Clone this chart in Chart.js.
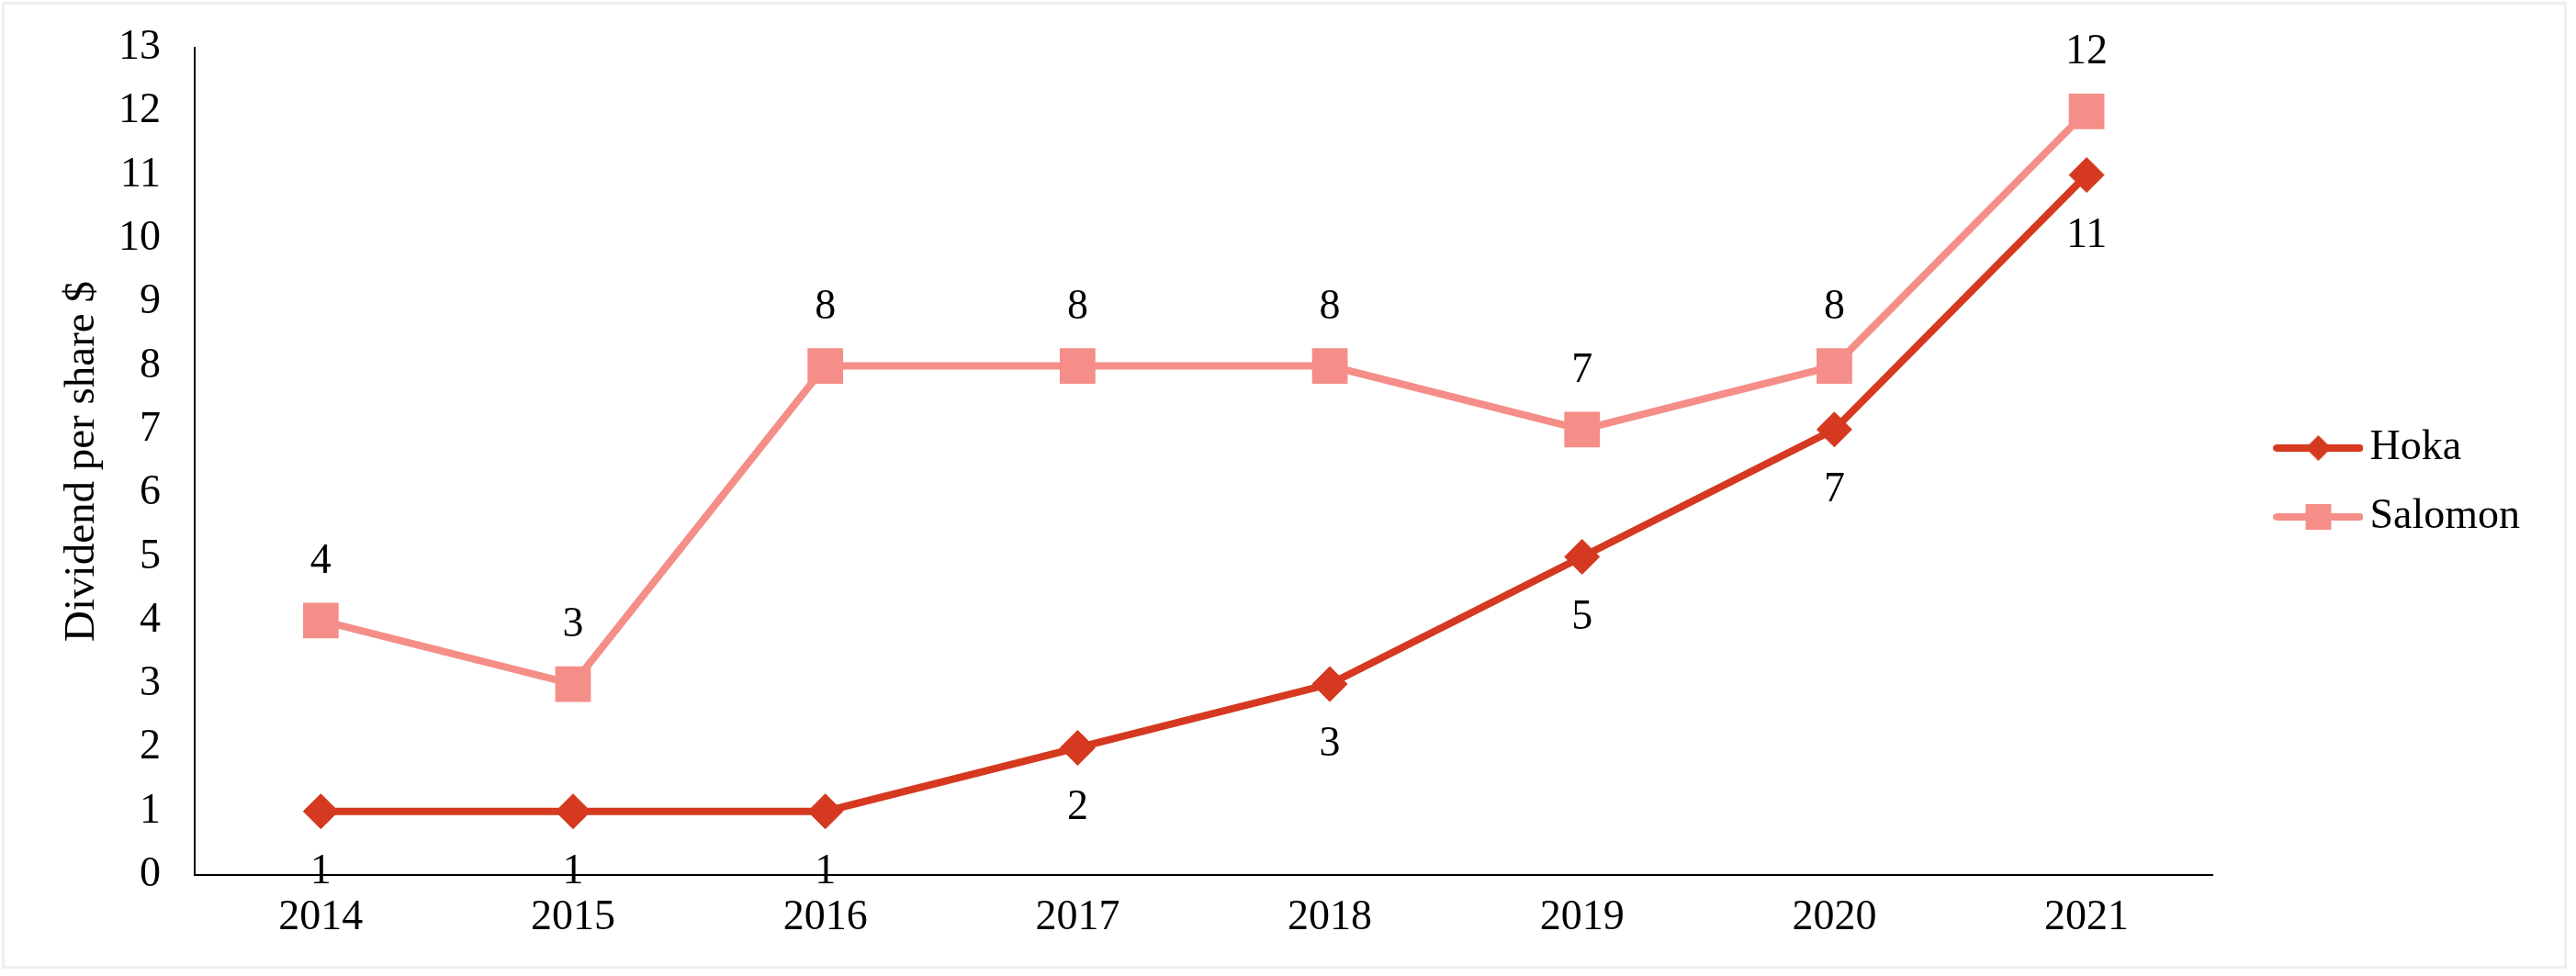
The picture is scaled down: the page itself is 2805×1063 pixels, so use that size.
<!DOCTYPE html>
<html>
<head>
<meta charset="utf-8">
<title>Dividend per share</title>
<script src="https://cdn.jsdelivr.net/npm/chart.js@4.4.1/dist/chart.umd.min.js"></script>
<style>
  html, body { margin: 0; padding: 0; background: #fff; }
  #marco { position: relative; width: 2805px; height: 1063px; }
  #grafica { display: block; }
  #borde { position: absolute; left: 2px; top: 2px; width: 2793px; height: 1053px;
           border: 3px solid #efefef; box-sizing: border-box; pointer-events: none; }
</style>
</head>
<body>
<div id="marco">
  <canvas id="grafica" width="2805" height="1063"></canvas>
  <div id="borde"></div>
</div>
<script>
// datos
const anios = ['2014', '2015', '2016', '2017', '2018', '2019', '2020', '2021'];
const hoka = [1, 1, 1, 2, 3, 5, 7, 11];
const salomon = [4, 3, 8, 8, 8, 7, 8, 12];
const yMin = 0;
const yMax = 13;
const yPaso = 1;

const rojo = '#d5391f';
const salmon = '#f58e88';

Chart.defaults.font.family = '"Liberation Serif", serif';
Chart.defaults.font.size = 46;
Chart.defaults.color = '#000';

// icono de leyenda: linea con marcador
function icono(color, forma){
    const c = document.createElement('canvas');
    c.width = 98;
    c.height = 40;
    const g = c.getContext('2d');
    g.strokeStyle = color;
    g.fillStyle = color;
    g.lineWidth = 8;
    g.lineCap = 'round';
    g.beginPath();
    g.moveTo(4, 20);
    g.lineTo(94, 20);
    g.stroke();
    g.beginPath();
    if(forma === 'rombo'){
        g.moveTo(49, 6);
        g.lineTo(63, 20);
        g.lineTo(49, 34);
        g.lineTo(35, 20);
    } else {
        g.rect(35, 6, 28, 28);
    }
    g.fill();
    return c;
}
const iconos = [icono(rojo, 'rombo'), icono(salmon, 'cuadro')];

// desplazamiento vertical de las etiquetas (debajo / encima)
const desplazamientos = [66, -64];

const etiquetasDatos = {
    id: 'etiquetasDatos',
    afterDatasetsDraw(chart){
        const ctx = chart.ctx;
        ctx.save();
        ctx.font = '46px "Liberation Serif", serif';
        ctx.fillStyle = '#000';
        ctx.textAlign = 'center';
        ctx.textBaseline = 'middle';
        chart.data.datasets.forEach(function(ds, i){
            chart.getDatasetMeta(i).data.forEach(function(pt, j){
                ctx.fillText(String(ds.data[j]), pt.x, pt.y + desplazamientos[i]);
            });
        });
        ctx.restore();
    }
};

// eje vacio que solo reserva espacio
function hueco(pos, tam){
    return {
        type: 'linear',
        position: pos,
        grid: { display: false, drawTicks: false },
        border: { display: false },
        ticks: { display: false },
        afterFit: function(s){
            if(pos === 'top'){ s.height = tam; } else { s.width = tam; }
        }
    };
}

new Chart(document.getElementById('grafica'), {
    type: 'line',
    data: {
        labels: anios,
        datasets: [{
            label: 'Hoka',
            data: hoka,
            borderColor: rojo,
            backgroundColor: rojo,
            borderWidth: 8,
            pointStyle: 'rectRot',
            pointRadius: 19,
            pointBorderWidth: 1,
            pointBackgroundColor: rojo,
            pointBorderColor: rojo,
            tension: 0
        }, {
            label: 'Salomon',
            data: salomon,
            borderColor: salmon,
            backgroundColor: salmon,
            borderWidth: 8,
            pointStyle: 'rect',
            pointRadius: 26,
            pointBorderWidth: 2,
            pointBackgroundColor: salmon,
            pointBorderColor: salmon,
            tension: 0
        }]
    },
    options: {
        responsive: false,
        animation: false,
        devicePixelRatio: 1,
        layout: {
            padding: { left: 40, top: 10, right: 51, bottom: 22 }
        },
        plugins: {
            tooltip: { enabled: false },
            legend: {
                position: 'right',
                labels: {
                    usePointStyle: true,
                    pointStyleWidth: 66,
                    padding: 29,
                    color: '#000',
                    font: { size: 46 },
                    generateLabels(chart){
                        const items = Chart.defaults.plugins.legend.labels.generateLabels(chart);
                        items.forEach(function(it, i){ it.pointStyle = iconos[i]; });
                        return items;
                    }
                }
            }
        },
        scales: {
            x: {
                offset: true,
                grid: { display: false, drawTicks: false },
                border: { color: '#000', width: 2 },
                ticks: { padding: 19 },
                afterFit: function(s){ s.height = 88; }
            },
            y: {
                min: yMin,
                max: yMax,
                ticks: { stepSize: yPaso, padding: 37 },
                grid: { display: false, drawTicks: false },
                border: { color: '#000', width: 2 },
                title: {
                    display: true,
                    text: 'Dividend per share $',
                    padding: { top: 21, bottom: 0 },
                    font: { size: 47 }
                },
                afterFit: function(s){
                    s.width = 172;
                    // el rotulo 13 puede salir por encima del area
                    s.paddingTop = 0;
                    s.paddingBottom = 0;
                }
            },
            huecoArriba: hueco('top', 42),
            huecoDerecha: hueco('right', 53)
        }
    },
    plugins: [etiquetasDatos]
});
</script>
</body>
</html>
